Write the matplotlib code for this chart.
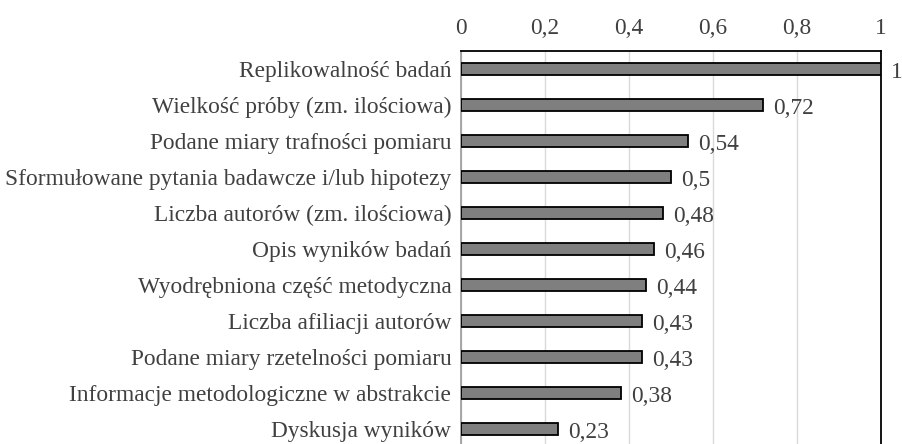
import matplotlib
matplotlib.use("Agg")
import matplotlib.pyplot as plt

categories = [
    "Replikowalność badań",
    "Wielkość próby (zm. ilościowa)",
    "Podane miary trafności pomiaru",
    "Sformułowane pytania badawcze i/lub hipotezy",
    "Liczba autorów (zm. ilościowa)",
    "Opis wyników badań",
    "Wyodrębniona część metodyczna",
    "Liczba afiliacji autorów",
    "Podane miary rzetelności pomiaru",
    "Informacje metodologiczne w abstrakcie",
    "Dyskusja wyników",
]
values = [1, 0.72, 0.54, 0.5, 0.48, 0.46, 0.44, 0.43, 0.43, 0.38, 0.23]
value_labels = ["1", "0,72", "0,54", "0,5", "0,48", "0,46", "0,44", "0,43", "0,43", "0,38", "0,23"]
ticks = [0, 0.2, 0.4, 0.6, 0.8, 1.0]
tick_labels = ["0", "0,2", "0,4", "0,6", "0,8", "1"]

plt.rcParams['font.family'] = ['Liberation Serif', 'DejaVu Serif']
text_color = "#404040"
fs = 16.8

fig = plt.figure(figsize=(9.03, 4.44), dpi=100)
ax = fig.add_axes([461/903, 1 - 447/444, (881-461)/903, (447-51)/444])

y = list(range(len(categories)))
ax.barh(y, values, height=0.36, color="#7f7f7f", edgecolor="black", linewidth=1.3, zorder=3)
for yi, v, lab in zip(y, values, value_labels):
    ax.text(v + 0.024, yi + 0.1, lab, va="center", ha="left", fontsize=fs, color=text_color)

ax.set_ylim(10.5, -0.5)
ax.set_xlim(0, 1)
ax.set_yticks(y)
ax.set_yticklabels(categories, fontsize=fs, color=text_color)
ax.xaxis.tick_top()
ax.set_xticks(ticks)
ax.set_xticklabels(tick_labels, fontsize=fs, color=text_color)
ax.tick_params(axis="both", length=0)
ax.tick_params(axis="x", pad=9)
ax.tick_params(axis="y", pad=7)
ax.grid(axis="x", color="#d9d9d9", linewidth=1, zorder=0)
for s in ["top", "right", "bottom"]:
    ax.spines[s].set_color("black")
    ax.spines[s].set_linewidth(1.3)
ax.spines["left"].set_color("#a0a0a0")
ax.spines["left"].set_linewidth(1.3)

fig.savefig("out.png", dpi=100)
